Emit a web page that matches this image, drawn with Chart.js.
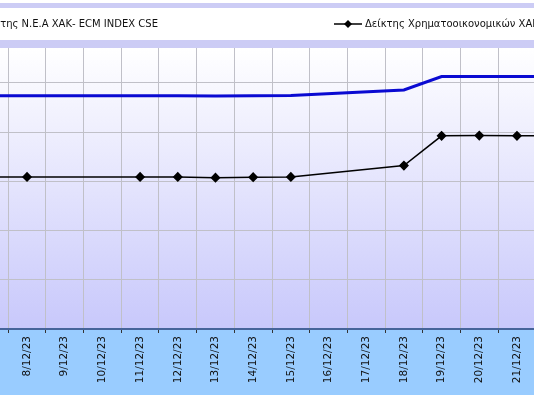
<!DOCTYPE html>
<html>
<head>
<meta charset="utf-8">
<script src="https://cdn.jsdelivr.net/npm/chart.js@4"></script>
<style>
  html, body { margin: 0; padding: 0; background: #ffffff; }
  #frame { position: relative; width: 534px; height: 395px; overflow: hidden; }
  /* the chart is wider than the window, its edges are cut off like in the picture */
  #wrap { position: absolute; left: -35px; top: 0; width: 614px; height: 395px; }
</style>
</head>
<body>
<div id="frame"><div id="wrap"><canvas id="myChart"></canvas></div></div>
<script>
const dates = ['7/12/23', '8/12/23', '9/12/23', '10/12/23', '11/12/23', '12/12/23', '13/12/23', '14/12/23',
    '15/12/23', '16/12/23', '17/12/23', '18/12/23', '19/12/23', '20/12/23', '21/12/23', '22/12/23'];
// no trading on weekends -> null
const ecmIndex = [94.8, 94.8, null, null, 94.8, 94.8, 94.7, 94.8, 94.9, null, null, 97.15, 102.6, 102.6, 102.6, 102.6];
const financialIndex = [61.8, 61.8, null, null, 61.8, 61.8, 61.5, 61.7, 61.8, null, null, 66.4, 78.5, 78.6, 78.5, 78.5];
const ecmLabel = 'Δείκτης Ν.Ε.Α ΧΑΚ- ECM INDEX CSE';
const financialLabel = 'Δείκτης Χρηματοοικονομικών ΧΑΚ';
const yStep = 20;
const yMax = 114.2;

// background bands, plot gradient and the blue label strip
const backdrop = {
    id: 'backdrop',
    beforeDraw(chart) {
        const ctx = chart.ctx;
        const a = chart.chartArea;
        const w = chart.width, h = chart.height;
        ctx.save();
        ctx.fillStyle = '#ffffff';
        ctx.fillRect(0, 0, w, h);
        ctx.fillStyle = '#ccccf5';
        ctx.fillRect(0, 3, w, h - 3);
        ctx.fillStyle = '#ffffff';
        ctx.fillRect(0, 8, w, 32);
        const g = ctx.createLinearGradient(0, a.top, 0, a.bottom);
        g.addColorStop(0, '#ffffff');
        g.addColorStop(1, '#c8c8fb');
        ctx.fillStyle = g;
        ctx.fillRect(a.left, a.top, a.right - a.left, a.bottom - a.top);
        ctx.fillStyle = '#99ccff';
        ctx.fillRect(0, a.bottom, w, h - a.bottom);
        ctx.restore();
    }
};

function drawEntry(ctx, ds, x, y) {
    ctx.strokeStyle = ds.borderColor;
    ctx.lineWidth = ds.borderWidth;
    ctx.beginPath();
    ctx.moveTo(x, y);
    ctx.lineTo(x + 28, y);
    ctx.stroke();
    if (ds.pointRadius > 0) {
        const r = ds.pointRadius;
        ctx.fillStyle = ds.pointBackgroundColor;
        ctx.beginPath();
        ctx.moveTo(x + 14, y - r);
        ctx.lineTo(x + 14 + r, y);
        ctx.lineTo(x + 14, y + r);
        ctx.lineTo(x + 14 - r, y);
        ctx.closePath();
        ctx.fill();
    }
    ctx.fillStyle = '#111111';
    ctx.fillText(ds.label, x + 31, y);
}

// legend: line sample (with marker) + text, in the white box
const legendRow = {
    id: 'legendRow',
    afterDraw(chart) {
        const ctx = chart.ctx;
        const sets = chart.data.datasets;
        ctx.save();
        ctx.font = '10px "DejaVu Sans"';
        ctx.textBaseline = 'middle';
        ctx.textAlign = 'left';
        const w0 = ctx.measureText(sets[0].label).width;
        drawEntry(ctx, sets[0], 193 - w0 - 31, 24);
        drawEntry(ctx, sets[1], 369, 24);
        ctx.restore();
    }
};

const chrt = document.getElementById('myChart');
new Chart(chrt, {
    type: 'line',
    data: {
        labels: dates,
        datasets: [{
            label: ecmLabel,
            data: ecmIndex,
            borderColor: '#0a0ad2',
            borderWidth: 3,
            pointRadius: 0,
            spanGaps: true
        }, {
            label: financialLabel,
            data: financialIndex,
            borderColor: '#000000',
            borderWidth: 1.5,
            pointStyle: 'rectRot',
            pointRadius: 4,
            pointBackgroundColor: '#000000',
            pointBorderColor: '#000000',
            spanGaps: true
        }]
    },
    options: {
        responsive: true,
        maintainAspectRatio: false,
        animation: false,
        layout: { padding: { top: 48, left: 0, right: 0, bottom: 0 } },
        plugins: {
            legend: { display: false },
            tooltip: { enabled: false }
        },
        scales: {
            x: {
                offset: true,
                grid: { offset: true, color: '#c0c0c8', tickColor: '#333333', tickLength: 4 },
                border: { color: '#46649a', width: 2 },
                ticks: {
                    autoSkip: false,
                    minRotation: 90,
                    maxRotation: 90,
                    padding: 3,
                    color: '#111111',
                    font: { family: 'DejaVu Sans', size: 10.5 }
                },
                afterFit(s) { s.height = 66; }
            },
            y: {
                min: 0,
                max: yMax,
                ticks: { stepSize: yStep, display: false },
                grid: { color: '#c0c0c8', drawTicks: false },
                border: { display: false },
                afterFit(s) { s.width = 0; },
                afterBuildTicks(s) { s.ticks = s.ticks.filter(t => t.value % yStep === 0); }
            }
        }
    },
    plugins: [backdrop, legendRow]
});
</script>
</body>
</html>
